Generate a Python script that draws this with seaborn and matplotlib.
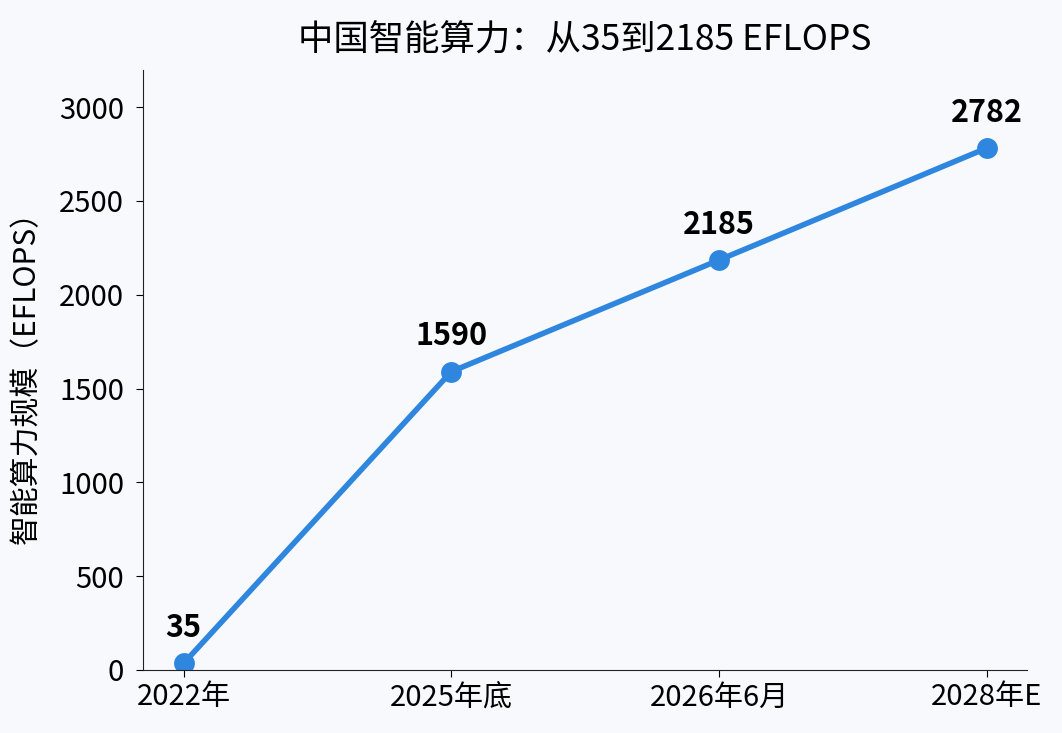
import matplotlib
matplotlib.use("Agg")
import matplotlib.pyplot as plt
import seaborn as sns
import pandas as pd

# data
periods = ["2022年", "2025年底", "2026年6月", "2028年E"]
compute_eflops = [35, 1590, 2185, 2782]

df = pd.DataFrame({"period": periods, "eflops": compute_eflops})
df["x"] = range(len(df))

sns.set_style("ticks")
plt.rcParams["font.family"] = ["Noto Sans CJK SC", "DejaVu Sans"]
plt.rcParams["text.color"] = "black"
plt.rcParams["axes.labelcolor"] = "black"

bg = "#f7f9fc"
line_color = "#2e86de"

fig, ax = plt.subplots(figsize=(10.62, 7.33), dpi=100)
fig.patch.set_facecolor(bg)
ax.set_facecolor(bg)

sns.lineplot(data=df, x="x", y="eflops", color=line_color, linewidth=4,
             marker="o", markersize=15, markeredgewidth=0, ax=ax)

for _, row in df.iterrows():
    ax.annotate(f"{row['eflops']}", (row["x"], row["eflops"]),
                xytext=(0, 14), textcoords="offset points",
                ha="center", va="bottom", fontsize=22, fontweight="bold",
                color="black")

ax.set_xticks(df["x"])
ax.set_xticklabels(periods)
ax.set_xlim(-0.15, 3.15)
ax.set_ylim(0, 3200)
ax.set_yticks(range(0, 3001, 500))
ax.tick_params(labelsize=21, colors="black", length=5)
ax.tick_params(axis="y", pad=9)
ax.tick_params(axis="x", pad=4)
for s in ax.spines.values():
    s.set_color("#222222")
ax.set_xlabel("")
ax.set_ylabel("智能算力规模（EFLOPS）", fontsize=21.5, labelpad=12)
ax.set_title("中国智能算力：从35到2185 EFLOPS", fontsize=25.5, pad=14)
sns.despine(ax=ax)

plt.subplots_adjust(left=0.135, right=0.967, top=0.905, bottom=0.086)
fig.savefig("out.png", dpi=100, facecolor=bg)
